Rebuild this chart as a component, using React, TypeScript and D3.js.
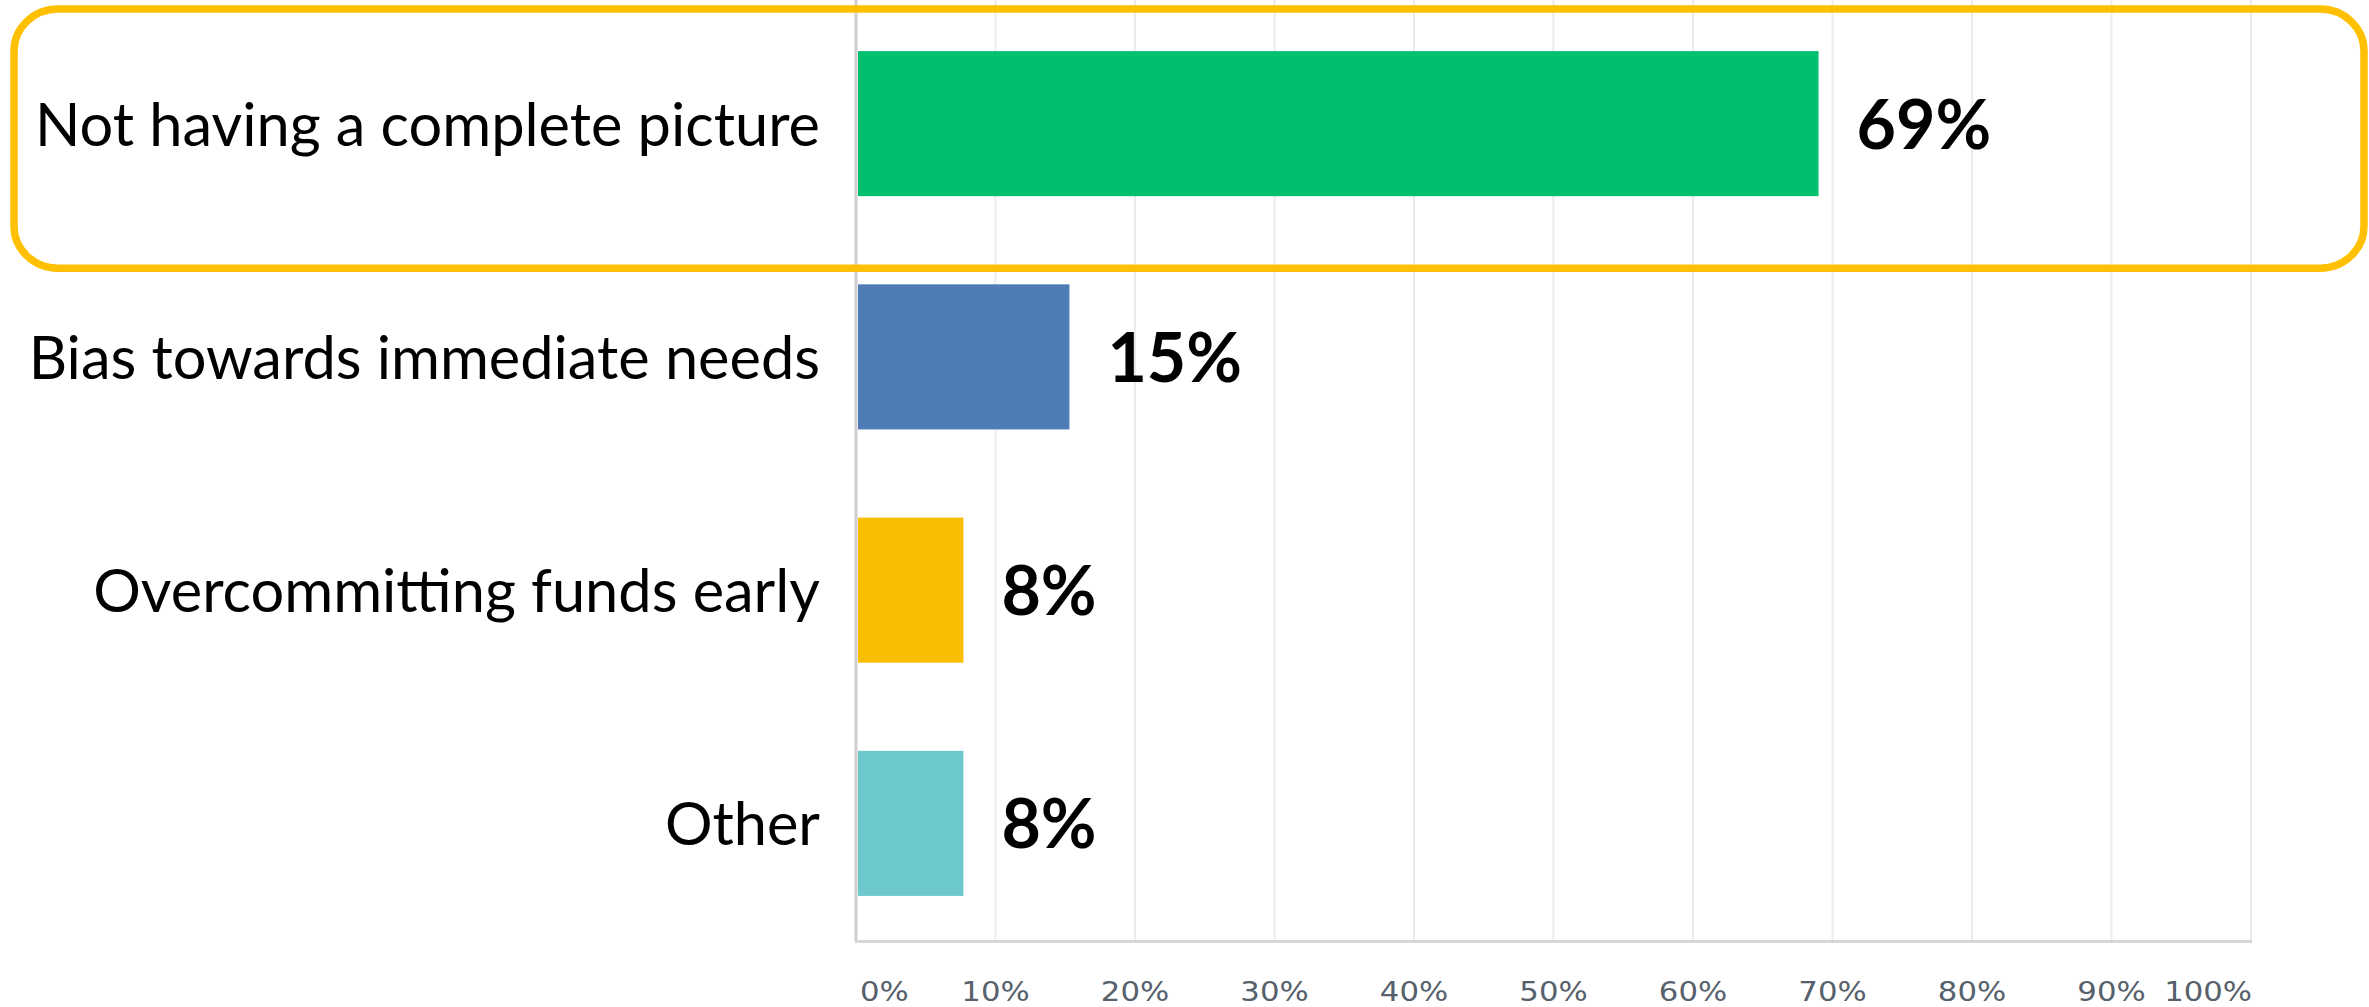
import React from "react";
import * as d3 from "d3";

const categories = [
  "Not having a complete picture",
  "Bias towards immediate needs",
  "Overcommitting funds early",
  "Other",
];
const values = [0.69, 0.153, 0.077, 0.077];
const valueLabels = ["69%", "15%", "8%", "8%"];
const barColors = ["#00BF6F", "#507CB6", "#F9BE00", "#6CC8CC"];
const tickValues = [0, 0.1, 0.2, 0.3, 0.4, 0.5, 0.6, 0.7, 0.8, 0.9, 1.0];
const tickLabels = ["0%", "10%", "20%", "30%", "40%", "50%", "60%", "70%", "80%", "90%", "100%"];
const highlightIndex = 0;

const W = 2369;
const H = 1007;
const plotLeft = 856;
const plotRight = 2251;
const plotTop = 7;
const plotBottom = 940;

export default function App() {
  const x = d3.scaleLinear().domain([0, 1]).range([plotLeft, plotRight]);
  const y = d3
    .scaleBand<string>()
    .domain(categories)
    .range([plotTop, plotBottom])
    .paddingInner(0.378)
    .paddingOuter(0.189);
  const bw = y.bandwidth();
  const hlCat = categories[highlightIndex];
  const hlTop = (y(hlCat) as number) - 42;
  const hlBottom = (y(hlCat) as number) + bw + 72;

  return (
    <svg
      width={W}
      height={H}
      style={{ position: "absolute", left: 0, top: 0, background: "#fff" }}
    >
      <rect x={0} y={0} width={W} height={H} fill="#fff" />
      {tickValues.slice(1).map((t) => (
        <line
          key={"g" + t}
          x1={x(t)}
          x2={x(t)}
          y1={0}
          y2={plotBottom + 1}
          stroke="#ebebeb"
          strokeWidth={2}
        />
      ))}
      <line x1={x(0)} x2={x(0)} y1={0} y2={plotBottom + 1} stroke="#cfcfcf" strokeWidth={3} />
      <line
        x1={x(0) - 1}
        x2={x(1) + 1}
        y1={plotBottom + 1.5}
        y2={plotBottom + 1.5}
        stroke="#d6d6d6"
        strokeWidth={3}
      />
      {categories.map((c, i) => (
        <rect
          key={"b" + c}
          x={x(0) + 2}
          y={y(c)}
          width={x(values[i]) - x(0) - 2}
          height={bw}
          fill={barColors[i]}
        />
      ))}
      {categories.map((c) => (
        <text
          key={"l" + c}
          x={820}
          y={(y(c) as number) + bw / 2 + 22}
          textAnchor="end"
          fontFamily="Lato, 'Open Sans', sans-serif"
          fontSize={59.5}
          fill="#000"
        >
          {c}
        </text>
      ))}
      {categories.map((c, i) => (
        <text
          key={"v" + c}
          x={x(values[i]) + 38}
          y={(y(c) as number) + bw / 2 + 25}
          textAnchor="start"
          fontFamily="Lato, 'Open Sans', sans-serif"
          fontWeight={700}
          fontSize={68}
          fill="#000"
        >
          {valueLabels[i]}
        </text>
      ))}
      {tickValues.map((t, i) => {
        const anchor = i === 0 ? "start" : i === tickValues.length - 1 ? "end" : "middle";
        const tx = i === 0 ? x(t) + 4 : i === tickValues.length - 1 ? x(t) + 1 : x(t);
        return (
          <g key={"t" + t} transform={`translate(${tx},1001) scale(1.16,1)`}>
            <text
              x={0}
              y={0}
              textAnchor={anchor}
              fontFamily="'DejaVu Sans', sans-serif"
              fontSize={26.5}
              fill="#56616c"
            >
              {tickLabels[i]}
            </text>
          </g>
        );
      })}
      <rect
        x={14}
        y={hlTop}
        width={W - 14 - 5}
        height={hlBottom - hlTop}
        rx={44}
        ry={42}
        fill="none"
        stroke="#FFC000"
        strokeWidth={7.5}
      />
    </svg>
  );
}
